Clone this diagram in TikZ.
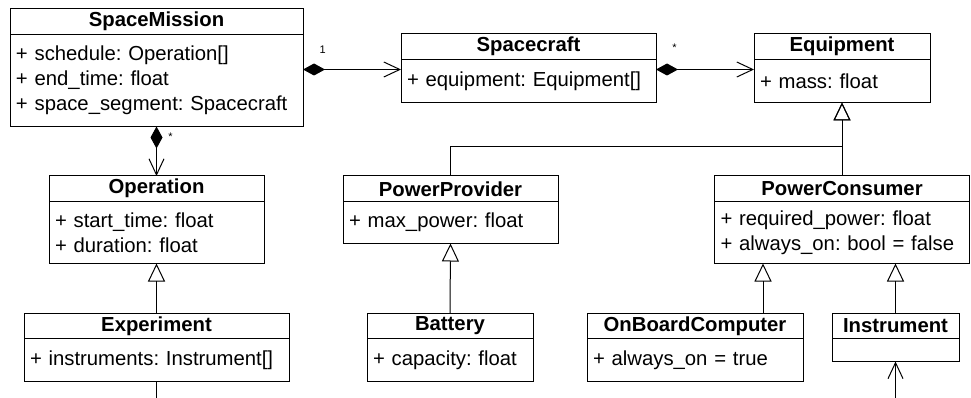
\documentclass[tikz,border=0pt]{standalone}
\usepackage{fontspec}
\setmainfont{Liberation Sans}
\usetikzlibrary{positioning}
\usetikzlibrary{arrows.meta}
\usetikzlibrary{calc}
\frenchspacing

\tikzset{
  classhead/.style={draw, minimum width=#1, minimum height=25.5pt, inner sep=0pt, outer sep=0pt,
    font=\fontsize{20.3}{25}\selectfont\bfseries},
  classbody/.style 2 args={draw, text width=#1, minimum height=#2, inner xsep=6pt, inner ysep=0pt,
    outer sep=0pt, align=left, font=\fontsize{20.3}{25}\selectfont},
  compose/.style={arrows={Diamond[length=22pt,width=12pt]-Straight Barb[length=16pt,width=15pt]}},
  assoc/.style={arrows={-Straight Barb[length=16pt,width=15pt]}},
  inherit/.style={arrows={-Triangle[open,length=18pt,width=17pt]}},
  mult/.style={font=\fontsize{11}{11}\selectfont}
}

\begin{document}
\begin{tikzpicture}[x=1pt, y=-1pt, line width=1pt]
\useasboundingbox (0,0) rectangle (971,398);

% top row
\node[classhead=293pt] (mission) at (156.5,21.75) {SpaceMission};
\node[classbody={281pt}{92pt}, below=0pt of mission] (mission-body)
  {+ schedule: Operation[]\\+ end\_time: float\\+ space\_segment: Spacecraft};
\node[classhead=255pt] (craft) at (528.5,46.75) {Spacecraft};
\node[classbody={243pt}{43pt}, below=0pt of craft] (craft-body) {+ equipment: Equipment[]};
\node[classhead=176pt] (equipment) at (842,46.75) {Equipment};
\node[classbody={164pt}{43pt}, below=0pt of equipment] (equipment-body) {+ mass: float};

% middle row
\node[classhead=215pt] (operation) at (156.5,188.75) {Operation};
\node[classbody={203pt}{62pt}, below=0pt of operation] (operation-body)
  {+ start\_time: float\\+ duration: float};
\node[classhead=215pt] (provider) at (450.5,188.75) {PowerProvider};
\node[classbody={203pt}{42pt}, below=0pt of provider] (provider-body) {+ max\_power: float};
\node[classhead=255pt] (consumer) at (842,188.75) {PowerConsumer};
\node[classbody={243pt}{62pt}, below=0pt of consumer] (consumer-body)
  {+ required\_power: float\\+ always\_on: bool = false};

% bottom row
\node[classhead=265pt] (experiment) at (156.5,325.75) {Experiment};
\node[classbody={253pt}{42.5pt}, below=0pt of experiment] (experiment-body) {+ instruments: Instrument[]};
\node[classhead=166pt] (battery) at (450,325.75) {Battery};
\node[classbody={154pt}{42.5pt}, below=0pt of battery] (battery-body) {+ capacity: float};
\node[classhead=216pt] (computer) at (695,325.75) {OnBoardComputer};
\node[classbody={204pt}{42.5pt}, below=0pt of computer] (computer-body) {+ always\_on = true};
\node[classhead=127pt] (instrument) at (895.5,325.75) {Instrument};
\node[classbody={115pt}{23pt}, below=0pt of instrument] (instrument-body) {};

\coordinate (join) at (842,147);
\coordinate (exp-out) at (156.5,398);
\coordinate (inst-out) at (895.5,398);

% compositions
\draw[compose] ([yshift=-10pt]craft-body.north west -| mission-body.east)
  -- node[pos=0.2, above=12pt, mult] {1} ([yshift=-10pt]craft-body.north west);
\draw[compose] ([yshift=-10pt]equipment-body.north west -| craft-body.east)
  -- node[pos=0.19, above=14pt, mult] {*} ([yshift=-10pt]equipment-body.north west);
\draw[compose] (mission-body.south) -- node[pos=0.2, right=8pt, mult] {*} (operation.north);

% generalisations
\draw[inherit] (consumer.north) -- (equipment-body.south);
\draw[inherit] (provider.north) |- (join) -- (equipment-body.south);
\draw[inherit] (experiment.north) -- (operation-body.south);
\draw[inherit] (battery.north) -- (provider-body.south);
\draw[inherit] ([xshift=-40pt]computer.north east) -- ([xshift=-40pt]computer.north east |- consumer-body.south);
\draw[inherit] (instrument.north) -- (instrument.north |- consumer-body.south);

% leaving the page
\draw (experiment-body.south) -- (exp-out);
\draw[assoc] (inst-out) -- (instrument-body.south);
\end{tikzpicture}
\end{document}
